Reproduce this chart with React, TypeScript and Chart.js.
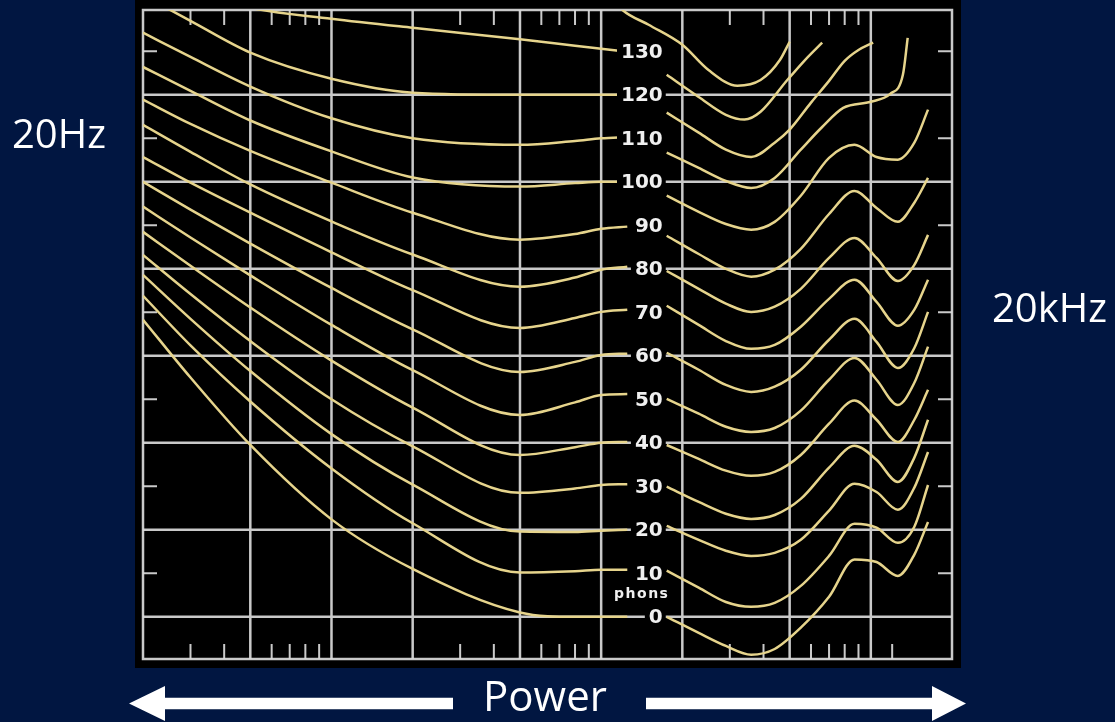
import React, { useEffect, useRef } from "react";
import { Chart, registerables } from "chart.js";

Chart.register(...registerables);

const W = 1115;
const H = 722;

// Axis ranges: frequency in Hz (log), level in dB SPL
const FREQ_MIN = 20;
const FREQ_MAX = 20000;
const DB_MIN = -9.7;
const DB_MAX = 139.5;

// Grid and tick positions
const MAJOR_HZ = [50, 100, 200, 500, 1000, 2000, 5000, 10000];
const MINOR_HZ_TOP = [30, 40, 60, 70, 80, 90, 300, 400, 600, 700, 800, 900, 3000, 4000, 6000, 7000, 8000, 9000];
const MINOR_HZ_BOTTOM = [30, 40, 60, 70, 80, 90, 300, 400, 600, 700, 800, 900, 3000, 4000, 6000, 7000, 8000, 9000, 12000];
const MAJOR_DB = [0, 20, 40, 60, 80, 100, 120];
const MINOR_DB = [10, 30, 50, 70, 90, 110, 130];

// Loudness level labels (phons)
const PHON_LABELS = [0, 10, 20, 30, 40, 50, 60, 70, 80, 90, 100, 110, 120, 130];

// Low-frequency half of each contour (dB SPL at LEFT_HZ)
const LEFT_HZ = [20, 30, 50, 100, 200, 500, 800, 1000, 1250];
const left0 = [68.3, 55, 39.5, 22.4, 11, 1.0, 0, 0, 0];
const left10 = [73.8, 62.4, 49.5, 34.1, 21.5, 10.2, 10.5, 10.8, 10.8];
const left20 = [78.6, 68.5, 56.5, 42, 30.4, 19.6, 19.5, 19.8, 20];
const left30 = [83.2, 74.2, 63.4, 50, 39.2, 28.5, 29.5, 30.3, 30.5];
const left40 = [88.5, 80.7, 71.1, 58.9, 48.1, 37.2, 39, 40, 40.2];
const left50 = [94.3, 87.2, 78.5, 67.1, 56.7, 46.4, 49.3, 51, 51.2];
const left60 = [100, 93.6, 85.8, 75.6, 66.1, 56.3, 58.6, 60.2, 60.5];
const left70 = [105.7, 99.8, 92.9, 83.8, 75.1, 66.4, 68.7, 70.1, 70.6];
const left80 = [113.1, 106.9, 99.4, 90.9, 83.3, 75.9, 78.0, 79.8, 80.5];
const left90 = [118.9, 113.3, 107.1, 99.8, 92.9, 86.7, 88.0, 89.2, 89.7];
const left100 = [126.4, 120.9, 114.1, 107.0, 101.0, 98.9, 99.7, 100, 100];
const left110 = [134.3, 128.7, 121.9, 114.6, 110, 108.5, 109.4, 110, 110.3];
const left120 = [142.9, 137, 129.7, 123.7, 120.5, 120, 120, 120, 120];
const left130 = [148, 144, 140, 137.5, 135.4, 132.8, 131.3, 130.6, 129.9];

// High-frequency half of the contours from 0 to 100 phons (dB SPL at RIGHT_HZ)
const RIGHT_HZ = [1750, 2300, 2900, 3600, 4400, 5500, 7000, 8700, 10500, 12600, 14500, 16300];
const right0 = [0, -3.7, -6.7, -8.7, -7.4, -2.5, 4.6, 13.2, 12.6, 9.4, 14.3, 21.8];
const right10 = [10.6, 6.7, 3.4, 2.3, 3.2, 7.1, 14.0, 21.4, 20.5, 17.0, 20.7, 30.3];
const right20 = [20.9, 17.7, 15.2, 14.0, 14.7, 17.7, 24.4, 30.6, 28.7, 24.6, 29.7, 37.9];
const right30 = [29.9, 26.4, 23.7, 22.5, 23.4, 27.1, 34.3, 39.3, 36.1, 31.0, 36.6, 45.3];
const right40 = [39.5, 36.3, 33.6, 32.4, 33.3, 37.2, 44.4, 49.7, 45.3, 40.2, 45.3, 52.2];
const right50 = [50.1, 46.7, 43.7, 42.5, 43.4, 47.4, 54.5, 59.5, 54.5, 48.7, 53.8, 62.1];
const right60 = [60.7, 56.8, 53.3, 51.7, 52.9, 56.8, 63.7, 68.5, 63.2, 57.2, 61.8, 70.1];
const right70 = [71.5, 67.1, 63.4, 61.6, 62.5, 66.7, 73.1, 77.5, 72.4, 66.9, 70.6, 77.5];
const right80 = [79.5, 75.4, 72.0, 70.1, 71.3, 75.4, 82.5, 87.1, 82.5, 77.2, 80.9, 87.8];
const right90 = [87.6, 83.4, 80.0, 78.2, 79.8, 84.6, 92.6, 97.9, 94.0, 90.8, 95.2, 100.9];
const right100 = [96.8, 93.1, 90.3, 89.0, 90.8, 96.8, 105.5, 108.5, 105.7, 105.1, 109.0, 116.6];

// High-frequency halves of the loudest contours, each on its own frequencies
const right110Hz = [1750, 2300, 2900, 3600, 4400, 5500, 6600, 7900, 10000, 11800, 13150, 13700];
const right110Db = [106.7, 103.2, 100.2, 98.6, 100.9, 107.4, 112.6, 117.0, 118.4, 120.2, 124.6, 133.1];
const right120Hz = [1750, 2300, 2900, 3600, 4400, 5000, 6000, 7000, 8000, 9000, 10200];
const right120Db = [115.9, 111.3, 107.4, 105.7, 109.0, 112.0, 118.2, 123.2, 127.8, 130.3, 132.0];
const right130Hz = [1750, 2300, 2900, 3400, 3900, 4900, 5700, 6600];
const right130Db = [124.6, 119.5, 115.4, 114.3, 116.1, 123.4, 128.0, 132.0];
const right140Hz = [1100, 1200, 1500, 2000, 2500, 3200, 3900, 4600, 5000];
const right140Db = [142.3, 139.5, 136.1, 131.5, 125.7, 122.1, 123.4, 128.0, 132.2];

type Contour = { phon: number; left: number[] | null; rightHz: number[]; rightDb: number[] };

const CONTOURS: Contour[] = [
  { phon: 0, left: left0, rightHz: RIGHT_HZ, rightDb: right0 },
  { phon: 10, left: left10, rightHz: RIGHT_HZ, rightDb: right10 },
  { phon: 20, left: left20, rightHz: RIGHT_HZ, rightDb: right20 },
  { phon: 30, left: left30, rightHz: RIGHT_HZ, rightDb: right30 },
  { phon: 40, left: left40, rightHz: RIGHT_HZ, rightDb: right40 },
  { phon: 50, left: left50, rightHz: RIGHT_HZ, rightDb: right50 },
  { phon: 60, left: left60, rightHz: RIGHT_HZ, rightDb: right60 },
  { phon: 70, left: left70, rightHz: RIGHT_HZ, rightDb: right70 },
  { phon: 80, left: left80, rightHz: RIGHT_HZ, rightDb: right80 },
  { phon: 90, left: left90, rightHz: RIGHT_HZ, rightDb: right90 },
  { phon: 100, left: left100, rightHz: RIGHT_HZ, rightDb: right100 },
  { phon: 110, left: left110, rightHz: right110Hz, rightDb: right110Db },
  { phon: 120, left: left120, rightHz: right120Hz, rightDb: right120Db },
  { phon: 130, left: left130, rightHz: right130Hz, rightDb: right130Db },
  { phon: 140, left: null, rightHz: right140Hz, rightDb: right140Db },
];

const NAVY = "#011641";
const PANEL = "#000000";
const GRID = "rgba(216,216,216,0.93)";
const CURVE = "#e6d48c";
const LABEL = "#f0f0f0";

const SANS = '"Open Sans", "Liberation Sans", sans-serif';
const LABEL_FONT = 'bold 20px "DejaVu Sans", sans-serif';

function drawArrow(ctx: CanvasRenderingContext2D, tipX: number, baseX: number, shaftEnd: number, cy: number) {
  const half = 17.5;
  const shaft = 5.7;
  ctx.beginPath();
  ctx.moveTo(tipX, cy);
  ctx.lineTo(baseX, cy - half);
  ctx.lineTo(baseX, cy - shaft);
  ctx.lineTo(shaftEnd, cy - shaft);
  ctx.lineTo(shaftEnd, cy + shaft);
  ctx.lineTo(baseX, cy + shaft);
  ctx.lineTo(baseX, cy + half);
  ctx.closePath();
  ctx.fill();
}

const framePlugin = {
  id: "contourFrame",
  beforeDraw(chart: any) {
    const { ctx, chartArea: a, scales } = chart;
    const xs = scales.x;
    const ys = scales.y;
    ctx.save();
    ctx.fillStyle = NAVY;
    ctx.fillRect(0, 0, W, H);
    ctx.fillStyle = PANEL;
    ctx.fillRect(a.left - 8, 0, a.right - a.left + 17, a.bottom + 9);

    ctx.strokeStyle = GRID;
    ctx.lineWidth = 2.5;
    ctx.beginPath();
    MAJOR_HZ.forEach((f) => {
      const x = xs.getPixelForValue(f);
      ctx.moveTo(x, a.top);
      ctx.lineTo(x, a.bottom);
    });
    MAJOR_DB.forEach((d) => {
      const y = ys.getPixelForValue(d);
      ctx.moveTo(a.left, y);
      ctx.lineTo(a.right, y);
    });
    ctx.stroke();

    // short ticks along the frame
    ctx.lineWidth = 2;
    ctx.beginPath();
    MINOR_HZ_TOP.forEach((f) => {
      const x = xs.getPixelForValue(f);
      ctx.moveTo(x, a.top);
      ctx.lineTo(x, a.top + 15);
    });
    MINOR_HZ_BOTTOM.forEach((f) => {
      const x = xs.getPixelForValue(f);
      ctx.moveTo(x, a.bottom);
      ctx.lineTo(x, a.bottom - 15);
    });
    MINOR_DB.forEach((d) => {
      const y = ys.getPixelForValue(d);
      ctx.moveTo(a.left, y);
      ctx.lineTo(a.left + 14, y);
      ctx.moveTo(a.right, y);
      ctx.lineTo(a.right - 14, y);
    });
    ctx.stroke();

    ctx.lineWidth = 2.5;
    ctx.strokeRect(a.left, a.top, a.right - a.left, a.bottom - a.top);
    ctx.restore();
  },
  afterDatasetsDraw(chart: any) {
    const { ctx, scales } = chart;
    const xs = scales.x;
    const ys = scales.y;
    const rightEdge = (xs.getPixelForValue(1000) + xs.getPixelForValue(2000)) / 2 + 21;
    ctx.save();
    ctx.font = LABEL_FONT;
    ctx.textAlign = "right";
    ctx.textBaseline = "middle";
    PHON_LABELS.forEach((p) => {
      const y = ys.getPixelForValue(p);
      const text = String(p);
      const w = ctx.measureText(text).width;
      ctx.fillStyle = PANEL;
      ctx.fillRect(rightEdge - w - 4, y - 10, w + 7, 20);
      ctx.fillStyle = LABEL;
      ctx.fillText(text, rightEdge, y + 1);
    });
    ctx.font = 'bold 14px "DejaVu Sans", sans-serif';
    (ctx as any).letterSpacing = "1.5px";
    ctx.textAlign = "center";
    ctx.fillText("phons", rightEdge - 21, ys.getPixelForValue(5) - 1);
    (ctx as any).letterSpacing = "0px";

    // surrounding annotations
    ctx.fillStyle = "#ffffff";
    ctx.font = "40px " + SANS;
    ctx.textAlign = "left";
    ctx.textBaseline = "alphabetic";
    ctx.fillText("20Hz", 12, 148);
    ctx.fillText("20kHz", 992, 322);
    ctx.font = "42px " + SANS;
    ctx.textAlign = "center";
    ctx.fillText("Power", 545, 711);
    drawArrow(ctx, 129, 165, 453, 703.5);
    drawArrow(ctx, 966, 932, 646, 703.5);
    ctx.restore();
  },
};

function buildDatasets() {
  return CONTOURS.map((c) => {
    const data: { x: number; y: number | null }[] = [];
    if (c.left) {
      LEFT_HZ.forEach((f, i) => data.push({ x: f, y: c.left![i] }));
      data.push({ x: 1500, y: null });
    }
    c.rightHz.forEach((f, i) => data.push({ x: f, y: c.rightDb[i] }));
    return {
      label: `${c.phon} phons`,
      data,
      borderColor: CURVE,
      borderWidth: 2.5,
      pointRadius: 0,
      fill: false,
      spanGaps: false,
      cubicInterpolationMode: "monotone" as const,
    };
  });
}

export default function App() {
  const ref = useRef<HTMLCanvasElement | null>(null);

  useEffect(() => {
    if (!ref.current) return;
    const chart = new Chart(ref.current, {
      type: "line",
      data: { datasets: buildDatasets() as any },
      options: {
        animation: false,
        responsive: false,
        devicePixelRatio: 1,
        events: [],
        layout: { padding: { left: 143, right: 163, top: 10, bottom: 63 } },
        scales: {
          x: { type: "logarithmic", min: FREQ_MIN, max: FREQ_MAX, display: false },
          y: { type: "linear", min: DB_MIN, max: DB_MAX, display: false },
        },
        plugins: { legend: { display: false }, tooltip: { enabled: false } },
      },
      plugins: [framePlugin],
    });
    return () => chart.destroy();
  }, []);

  return (
    <div style={{ position: "absolute", left: 0, top: 0, width: W, height: H, background: NAVY }}>
      <canvas ref={ref} width={W} height={H} style={{ display: "block", width: W, height: H }} />
    </div>
  );
}
